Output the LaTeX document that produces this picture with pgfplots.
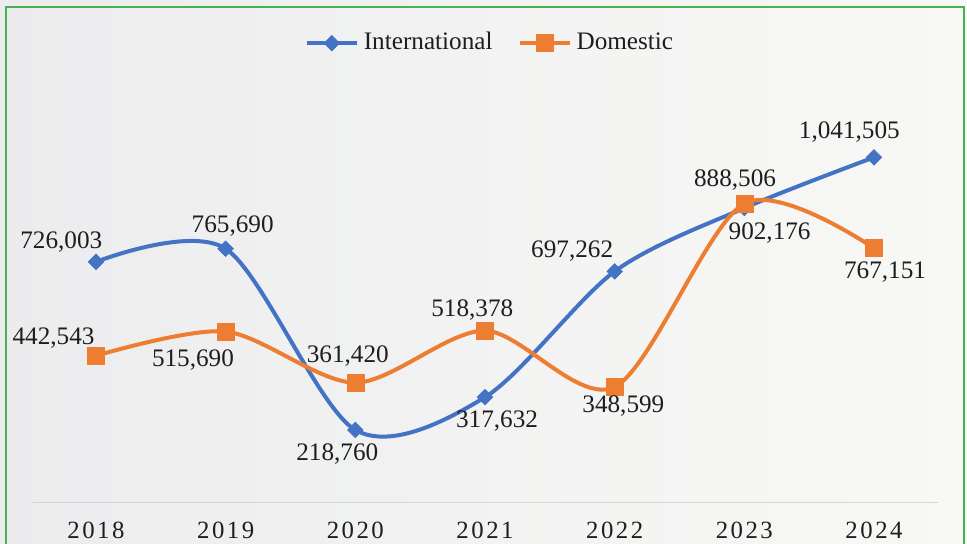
\documentclass[border=0pt]{standalone}
\usepackage{fontspec}
\setmainfont{Liberation Serif}
\usepackage{pgfplots}
\pgfplotsset{compat=1.18}
\usepackage{pgfplotstable}

\definecolor{intl}{RGB}{68,114,196}
\definecolor{dom}{RGB}{237,125,49}
\definecolor{bgL}{RGB}{236,236,238}
\definecolor{bgR}{RGB}{248,249,246}
\definecolor{border}{RGB}{70,178,80}
\definecolor{axisgray}{RGB}{214,214,214}
\definecolor{txt}{RGB}{30,30,30}

\newcommand\lblfont{\fontsize{12.6}{14}\selectfont}
\newcommand\tickfont{\fontsize{12.4}{14}\selectfont\addfontfeatures{LetterSpace=10}}

\pgfplotstableread{
x y label dx dy
0 726003 726,003 -17.35 10
1 765690 765,690 3.5 11.5
2 218760 218,760 -9 -12
3 317632 317,632 6 -11.65
4 697262 697,262 -21.25 10.5
5 888506 888,506 -4.65 14
6 1041505 1,041,505 -12.35 12.8
}\intltable

\pgfplotstableread{
x y label dx dy
0 442543 442,543 -21.25 9
1 515690 515,690 -16.35 -14
2 361420 361,420 -3.75 13.35
3 518378 518,378 -6.35 10.7
4 348599 348,599 4.35 -9.5
5 902176 902,176 12.65 -14.6
6 767151 767,151 5.5 -11.7
}\domtable

\begin{document}
\begin{tikzpicture}
\useasboundingbox (-16pt,-20.3pt) rectangle (467.5pt,251.2pt);
\shade[left color=bgL, right color=bgR] (-16pt,-20.3pt) rectangle (467.5pt,251.2pt);
\draw[border, line width=0.65pt] (-13pt,-21pt) -- (-13pt,247.7pt) -- (466pt,247.7pt) -- (466pt,-21pt);
\begin{axis}[
  at={(0pt,0pt)}, anchor=south west,
  scale only axis, width=453pt, height=247.7pt,
  xmin=-0.4936, xmax=6.4936, ymin=0, ymax=1495300,
  axis x line=bottom, axis y line=none,
  x axis line style={-, draw=axisgray, line width=0.75pt},
  xtick={0,1,2,3,4,5,6},
  xticklabels={2018,2019,2020,2021,2022,2023,2024},
  major tick length=0pt,
  xticklabel style={font=\tickfont, text=txt, anchor=center, inner sep=0pt, text height=0.68em, text depth=0pt, yshift=-14.5pt},
  ytick=\empty,
  clip=false,
  legend columns=2,
  legend style={at={(0.5044,0.927)}, anchor=center, draw=none, fill=none, font=\lblfont, text=txt, inner sep=0pt,
    nodes={inner sep=0pt, text height=0.68em, text depth=0pt},
    /tikz/every odd column/.append style={column sep=2.5pt},
    /tikz/every even column/.append style={column sep=12.5pt}},
  legend image code/.code={\draw[line width=2pt, mark repeat=2,mark phase=2] plot coordinates {(0pt,0pt)(12.5pt,0pt)(25pt,0pt)};},
]
\addplot[intl, smooth, tension=0.5, line width=2pt, mark=square*, mark size=2.75pt, mark options={rotate=45, solid, line width=0.3pt, fill=intl}] table[x=x,y=y]{\intltable};
\addlegendentry{International}
\addplot[dom, smooth, tension=0.5, line width=2pt, mark=square*, mark size=4.25pt, mark options={solid, line width=0.3pt, fill=dom}] table[x=x,y=y]{\domtable};
\addlegendentry{Domestic}
\addplot[draw=none, mark=none, forget plot, point meta=explicit symbolic, nodes near coords,
  visualization depends on={\thisrow{dx}\as\dx},
  visualization depends on={\thisrow{dy}\as\dy},
  nodes near coords style={font=\lblfont, text=txt, anchor=center, inner sep=0pt, text height=0.68em, text depth=0pt, xshift=\dx pt, yshift=\dy pt}]
  table[x=x,y=y,meta=label]{\intltable};
\addplot[draw=none, mark=none, forget plot, point meta=explicit symbolic, nodes near coords,
  visualization depends on={\thisrow{dx}\as\dx},
  visualization depends on={\thisrow{dy}\as\dy},
  nodes near coords style={font=\lblfont, text=txt, anchor=center, inner sep=0pt, text height=0.68em, text depth=0pt, xshift=\dx pt, yshift=\dy pt}]
  table[x=x,y=y,meta=label]{\domtable};
\end{axis}
\end{tikzpicture}
\end{document}
